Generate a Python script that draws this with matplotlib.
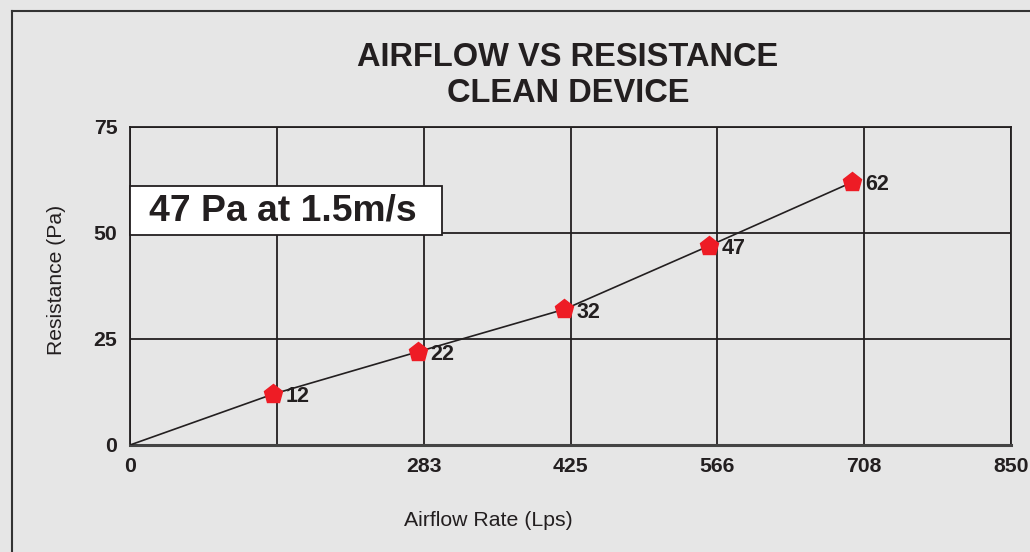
import matplotlib.pyplot as plt
from matplotlib.patches import Rectangle
from matplotlib.lines import Line2D

plt.rcParams['font.family'] = ['Liberation Sans', 'DejaVu Sans']

# data
flow = [0, 138, 278, 419, 559, 697]
resistance = [0, 12, 22, 32, 47, 62]
labels = ['12', '22', '32', '47', '62']
xtick_pos = [0, 850 / 6, 2 * 850 / 6, 3 * 850 / 6, 4 * 850 / 6, 5 * 850 / 6, 850]
xtick_lab = ['0', '', '283', '425', '566', '708', '850']
ytick_pos = [0, 25, 50, 75]

bg = '#e6e6e6'
ink = '#231f20'
W, H = 1030, 552
fig = plt.figure(figsize=(W / 100, H / 100), dpi=100, facecolor=bg)
ax = fig.add_axes([130 / W, 1 - 445 / H, 881 / W, 318 / H])
ax.set_facecolor(bg)

# frame lines around the figure (left and top visible)
fig.add_artist(Line2D([12 / W, 12 / W], [0, 1 - 11 / H], color='#333333', lw=1.5))
fig.add_artist(Line2D([12 / W, 1], [1 - 11 / H, 1 - 11 / H], color='#333333', lw=1.5))

ax.plot(flow, resistance, color=ink, lw=1.2, zorder=4)
ax.plot(flow[1:], resistance[1:], ls='none', marker='p', ms=14,
        color='#ee1c25', mec='#ee1c25', zorder=5)
for x, y, t in zip(flow[1:], resistance[1:], labels):
    ax.annotate(t, (x, y), xytext=(9, -2), textcoords='offset points',
                fontsize=15.5, fontweight='bold', color=ink,
                ha='left', va='center', zorder=6)

ax.set_xlim(0, 850)
ax.set_ylim(0, 75)
ax.set_xticks(xtick_pos)
ax.set_xticklabels(xtick_lab)
ax.set_yticks(ytick_pos)
ax.grid(True, color=ink, lw=1.3)
ax.set_axisbelow(True)
ax.tick_params(length=0, labelsize=15.3, pad=9, colors=ink)
for lab in ax.get_xticklabels() + ax.get_yticklabels():
    lab.set_fontweight('bold')
for s in ['top', 'left', 'right']:
    ax.spines[s].set_color(ink)
    ax.spines[s].set_linewidth(1.3)
ax.spines['bottom'].set_color('#444444')
ax.spines['bottom'].set_linewidth(2.2)

# highlight box
ax.add_patch(Rectangle((0, 0.660), 0.354, 0.154, transform=ax.transAxes,
                       facecolor='white', edgecolor=ink, lw=1.3, zorder=3,
                       clip_on=False))
ax.text(0.174, 0.737, '47 Pa at 1.5m/s', transform=ax.transAxes,
        fontsize=26.8, fontweight='bold', color=ink, ha='center', va='center', zorder=6)

fig.text(568 / W, 1 - 58 / H, 'AIRFLOW VS RESISTANCE', ha='center', va='center',
         fontsize=23.5, fontweight='bold', color=ink)
fig.text(568 / W, 1 - 94 / H, 'CLEAN DEVICE', ha='center', va='center',
         fontsize=23.5, fontweight='bold', color=ink)
fig.text(488 / W, 1 - 521 / H, 'Airflow Rate (Lps)', ha='center', va='center',
         fontsize=15.3, color=ink)
fig.text(57 / W, 1 - 280 / H, 'Resistance (Pa)', ha='center', va='center',
         rotation=90, fontsize=15.2, color=ink)

fig.savefig('out.png', dpi=100, facecolor=bg)
